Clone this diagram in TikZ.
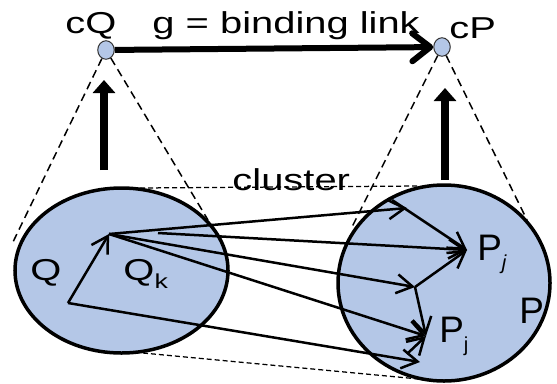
\documentclass[tikz,border=0pt]{standalone}
\usepackage{fontspec}
\setmainfont{Liberation Sans}
\usetikzlibrary{arrows.meta,shapes.geometric}
\definecolor{clusterblue}{RGB}{180,199,231}
\newcommand{\lowsub}[2]{\raisebox{#1}{\fontsize{11.5}{13}\selectfont #2}}

\begin{document}
\begin{tikzpicture}[x=0.2mm,y=-0.2mm,
  dot/.style={ellipse,draw=black!80,fill=clusterblue,line width=0.2mm,
    minimum width=3.3mm,minimum height=3.7mm,inner sep=0},
  cluster/.style={ellipse,draw,fill=clusterblue,line width=0.7mm,inner sep=0},
  cone/.style={dashed,line width=0.3mm,dash pattern=on 1.6mm off 1mm},
  rim/.style={line width=0.25mm,dash pattern=on 1mm off 0.6mm},
  link/.style={line width=0.5mm,-{Straight Barb[length=3.2mm,width=3.8mm]}},
  lift/.style={line width=1.6mm,-{Triangle[length=2.6mm,width=4.4mm]}},
  bind/.style={line width=1.2mm,-{Straight Barb[length=3.6mm,width=5.6mm,round]}},
  lbl/.style={font=\fontsize{17.2}{20}\selectfont,inner sep=0,xscale=1.32,anchor=base west},
  plbl/.style={font=\fontsize{21}{24}\selectfont,inner sep=0,anchor=base west}]
  \useasboundingbox (0,0) rectangle (557,383);
  \node[dot] (cQ) at (106,50) {};
  \node[dot] (cP) at (442,47) {};
  \coordinate (QL) at (13,242);
  \coordinate (QR) at (208,220);
  \coordinate (PL) at (352,227);
  \coordinate (PR) at (527,220);
  \coordinate (U1) at (140,188);
  \coordinate (U2) at (420,186);
  \coordinate (D1) at (143,353);
  \coordinate (D2) at (440,381);
  \draw[cone] (cQ) -- (QL);
  \draw[cone] (cQ) -- (QR);
  \draw[cone] (cP) -- (PL);
  \draw[cone] (cP) -- (PR);
  \draw[rim] (U1) -- (U2);
  \draw[rim] (D1) -- (D2);
  \node[cluster,minimum width=42.6mm,minimum height=33mm] (Q) at (121.5,270.5) {};
  \node[cluster,minimum width=42.4mm,minimum height=39.2mm] (P) at (444,283) {};
  \coordinate (H) at (109,234);
  \coordinate (L) at (68,303);
  \coordinate (S) at (158,233);
  \coordinate (A) at (407,208);
  \coordinate (E) at (392,200);
  \coordinate (J1) at (467,250);
  \coordinate (M) at (415,287);
  \coordinate (J2) at (426,336);
  \coordinate (T) at (420,362);
  \coordinate (F) at (407,354);
  \draw[link] (L) -- (H);
  \draw[link] (H) -- (A);
  \draw[link] (E) -- (J1);
  \draw[link] (S) -- (J1);
  \draw[link] (H) -- (M);
  \draw[link] (M) -- (J1);
  \draw[link] (M) -- (J2);
  \draw[link] (H) -- (J2);
  \draw[link] (L) -- (T);
  \draw[link] (F) -- (J2);
  \coordinate (qb) at (104,170);
  \coordinate (qt) at (104,80);
  \coordinate (pb) at (445,180);
  \coordinate (pt) at (445,88);
  \draw[lift] (qb) -- (qt);
  \draw[lift] (pb) -- (pt);
  \draw[bind] (cQ) -- (cP);
  \node[lbl] (cQl) at (65,33) {cQ};
  \node[lbl] (gl) at (152,33) {g = binding link};
  \node[lbl] (cPl) at (449,38) {cP};
  \node[lbl] (cl) at (232,190) {cluster};
  \node[lbl] (Ql) at (30,280) {Q};
  \node[lbl] (Qkl) at (123,280) {Q\lowsub{-1.6mm}{k}};
  \node[plbl] (Pj1) at (477,260) {P\lowsub{-1.8mm}{\itshape j}};
  \node[plbl] (Pj2) at (439,342) {P\lowsub{-1.8mm}{j}};
  \node[plbl] (Pl) at (519,323) {P};
\end{tikzpicture}
\end{document}
